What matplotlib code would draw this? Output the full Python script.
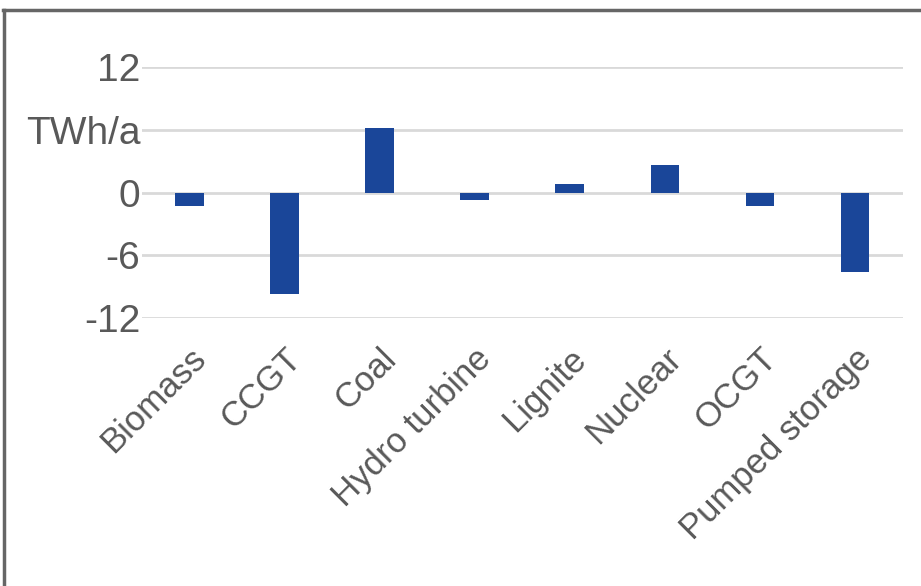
import numpy as np
import matplotlib.pyplot as plt
from matplotlib.lines import Line2D

plt.rcParams['font.family'] = ['Liberation Sans', 'DejaVu Sans']

# data
categories = ['Biomass', 'CCGT', 'Coal', 'Hydro turbine', 'Lignite',
              'Nuclear', 'OCGT', 'Pumped storage']
values = [-1.3, -9.7, 6.2, -0.7, 0.8, 2.6, -1.3, -7.6]
yticks = [-12, -6, 0, 6, 12]
ytick_labels = ['-12', '-6', '0', 'TWh/a', '12']

fig = plt.figure(figsize=(9.21, 5.86), dpi=100)
ax = fig.add_axes([0.154, 0.457, 0.826, 0.429])

x = np.arange(len(categories))
ax.bar(x, values, width=0.3, color='#1a4699', zorder=3)

ax.set_xlim(-0.5, len(categories) - 0.5)
ax.set_ylim(-12, 12)
ax.set_yticks(yticks)
ax.set_yticklabels(ytick_labels)
ax.set_xticks(x)
ax.set_xticklabels(categories, rotation=45, ha='right', rotation_mode='anchor')

ax.tick_params(axis='y', length=0, pad=1, labelsize=28, labelcolor='#595959')
ax.tick_params(axis='x', length=0, pad=17, labelsize=25, labelcolor='#595959')
ax.grid(axis='y', color='#d9d9d9', linewidth=2, zorder=0)
for s in ax.spines.values():
    s.set_visible(False)

# outer frame (top and left edges visible)
fig.add_artist(Line2D([0.003, 1.0], [0.983, 0.983], transform=fig.transFigure,
                      color='#666666', linewidth=2.5))
fig.add_artist(Line2D([0.004, 0.004], [0.0, 0.983], transform=fig.transFigure,
                      color='#666666', linewidth=2.5))

plt.savefig('out.png', dpi=100)
